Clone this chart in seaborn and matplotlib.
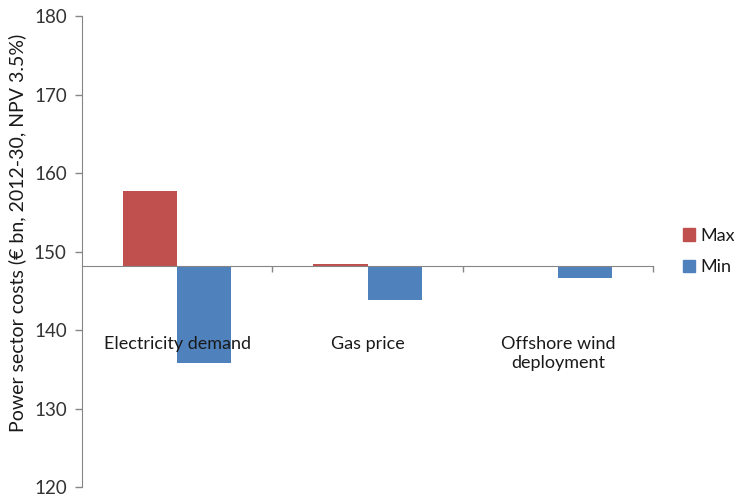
import pandas as pd
import numpy as np
import matplotlib
matplotlib.use("Agg")
import matplotlib.pyplot as plt
import seaborn as sns

# values (absolute costs, € bn)
categories = ["Electricity demand", "Gas price", "Offshore wind\ndeployment"]
baseline = 148.1
max_values = [157.7, 148.45, 148.1]
min_values = [135.8, 143.8, 146.6]
yticks = [120, 130, 140, 150, 160, 170, 180]

df = pd.DataFrame({
    "category": categories * 2,
    "series": ["Max"] * 3 + ["Min"] * 3,
    "value": max_values + min_values,
})
df["delta"] = df["value"] - baseline

sns.set_style("white")
plt.rcParams["font.family"] = ["Lato", "DejaVu Sans"]

fig = plt.figure(figsize=(7.34, 4.96), dpi=100)
ax = fig.add_axes([0.1117, 0.0181, 0.778, 0.9496])

colors = {"Max": "#C0504D", "Min": "#4F81BD"}
sns.barplot(data=df, x="category", y="delta", hue="series", palette=colors,
            width=0.57, gap=0, bottom=baseline, ax=ax, legend=False,
            linewidth=0, saturation=1)

ax.set_xlim(-0.5, 2.5)
ax.set_ylim(120, 180)
ax.set_yticks(yticks)
ax.tick_params(axis="y", direction="out", length=5, width=1, color="#868686",
               labelsize=13.5, labelcolor="#333333", left=True, pad=6)

# category axis crosses at the baseline
for s in ["top", "right"]:
    ax.spines[s].set_visible(False)
ax.spines["left"].set_color("#868686")
ax.spines["bottom"].set_color("#868686")
ax.spines["bottom"].set_position(("data", baseline))
ax.set_xticks([0.5, 1.5, 2.5])
ax.set_xticklabels([])
ax.tick_params(axis="x", direction="out", length=4, width=1, color="#868686", bottom=True)
ax.set_xlabel("")

for i, c in enumerate(categories):
    ax.text(i, 139.2, c, ha="center", va="top", fontsize=13, color="#1a1a1a",
            zorder=5, linespacing=1.2)

ax.set_ylabel("Power sector costs (€ bn, 2012-30, NPV 3.5%)", fontsize=14,
              color="#1a1a1a")
ax.yaxis.set_label_coords(-0.098, 0.539)

handles = [plt.Rectangle((0, 0), 1, 1, color=colors[k]) for k in ["Max", "Min"]]
ax.legend(handles, ["Max", "Min"], loc="center left", bbox_to_anchor=(1.052, 0.50),
          frameon=False, fontsize=13, handlelength=0.7, handleheight=0.7,
          handletextpad=0.25, labelspacing=0.85, labelcolor="#1a1a1a",
          borderpad=0, borderaxespad=0)

fig.savefig("out.png", dpi=100)
